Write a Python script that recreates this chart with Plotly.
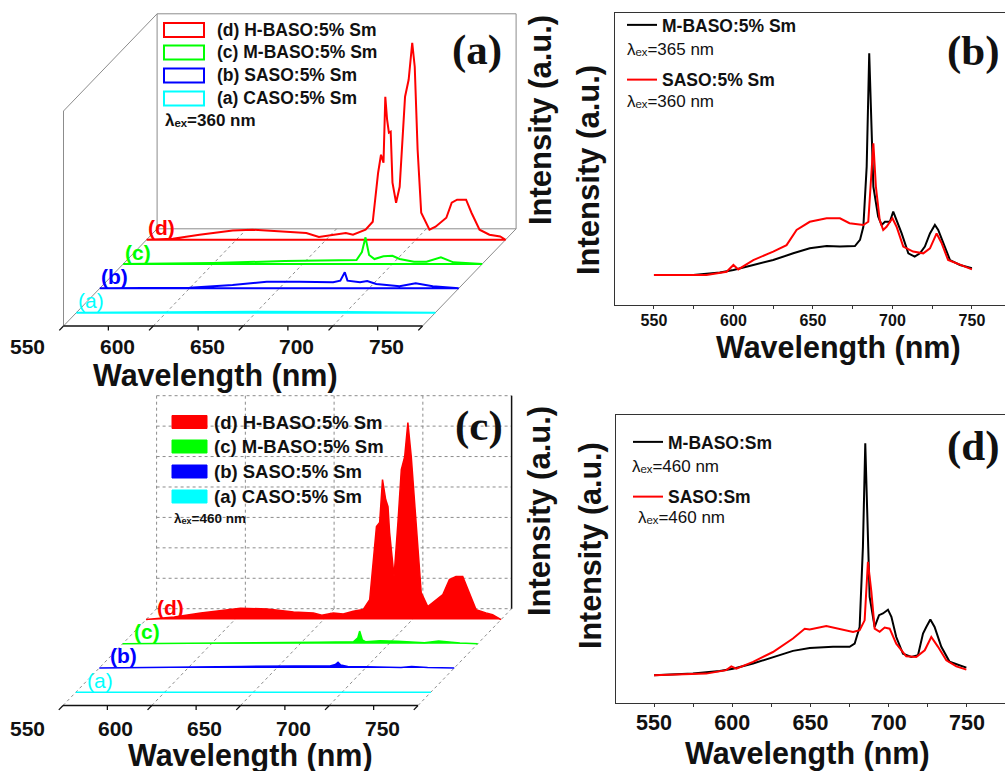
import plotly.graph_objects as go

FIG_W, FIG_H = 1005, 771
SANS = "Liberation Sans"
SERIF = "Liberation Serif"

# ----------------------------- data -----------------------------
# Panel (a): emission spectra, lambda_ex = 360 nm (stacked pseudo-3D rows)
wl_a_CASO = [550, 600, 650, 700, 750]
int_a_CASO = [0, 0.5, 1.0, 0.7, 0]
wl_a_SASO = [550, 600, 624, 643, 661, 680, 684, 686.5, 688, 695, 699, 704, 717, 726, 735.5, 750]
int_a_SASO = [0, 0.7, 3.3, 6.7, 6.7, 6.0, 7.7, 16.0, 7.7, 6.0, 7.3, 4.3, 2.0, 5.0, 2.0, 0]
wl_a_MBASO = [550, 600, 640, 660, 680, 683, 685, 687, 690, 695, 700, 704, 712, 719, 727, 734, 750]
int_a_MBASO = [0, 1.0, 3.0, 3.3, 4.0, 12.0, 26.7, 9.0, 5.0, 7.7, 8.3, 5.0, 2.3, 2.3, 6.7, 1.7, 0]
wl_a_HBASO = [550, 564.6, 579.5, 598, 609, 626, 639, 646, 654, 661, 665, 672, 676, 679, 680.6,
              682, 683, 684, 685, 686, 687, 689, 691, 694, 696, 698, 699.4, 701, 703, 707.6,
              711, 717, 720, 723, 728, 731, 735.5, 741, 747, 750]
int_a_HBASO = [0, 1.0, 5.0, 9.3, 10.0, 8.3, 6.7, 2.7, 5.0, 6.7, 5.0, 10.0, 18.0, 67.0, 85.0,
               77.0, 143.0, 120.0, 107.0, 108.0, 57.0, 37.0, 53.0, 143.0, 160.0, 197.0, 173.0, 90.0, 27.0, 10.0,
               13.0, 22.0, 37.0, 40.0, 40.0, 27.0, 10.0, 5.0, 3.3, 0]

# Panel (c): emission spectra, lambda_ex = 460 nm (stacked pseudo-3D filled rows)
wl_c_CASO = [550, 650, 750]
int_c_CASO = [0, 0.3, 0]
wl_c_SASO = [550, 600, 630, 660, 680, 683, 684.5, 686, 690, 700, 720, 726, 735, 750]
int_c_SASO = [0, 0.5, 1.5, 2.0, 2.0, 3.5, 5.7, 3.0, 1.5, 1.2, 0.5, 1.5, 0.5, 0]
wl_c_MBASO = [550, 620, 660, 680, 682.5, 683.5, 685, 687, 695, 705, 720, 728, 740, 750]
int_c_MBASO = [0, 0.5, 1.5, 2.0, 6.0, 12.7, 4.0, 2.0, 3.0, 2.5, 1.0, 2.7, 0.8, 0]
wl_c_HBASO = [550, 565.9, 580.8, 603.2, 618.2, 633.1, 644.3, 649, 655.5, 661.1, 666.7, 672.3, 676,
              679.8, 681.6, 683.2, 685, 686.3, 687.2, 689.7, 691.9, 693.8, 695.7, 697.5, 699.4,
              702.2, 705, 708.7, 713.4, 717.2, 720.9, 724.6, 728.4, 731.2, 735.9, 741.5, 745.2, 750]
int_c_HBASO = [0, 2.7, 6.7, 11.3, 10.7, 7.7, 6.7, 4.3, 6.7, 5.7, 8.3, 10.0, 20.0,
               93.0, 97.0, 140.0, 120.0, 113.0, 87.0, 43.0, 97.0, 150.0, 163.0, 197.0, 163.0,
               90.0, 27.0, 13.0, 20.0, 25.0, 40.0, 43.0, 43.0, 30.0, 10.0, 6.7, 5.0, 0]

# Panel (b): M-BASO (lambda_ex 365 nm) vs SASO (lambda_ex 360 nm)
wl_b_MBASO = [550, 574.7, 591.5, 600, 612.5, 625, 637.6, 648, 658.6, 667, 676.4, 679.6, 681.7,
              683.8, 685.4, 686.9, 688, 691, 693.2, 695.3, 698.4, 700.5, 702.6, 705.8, 710, 714,
              717.3, 720.4, 723.6, 726.7, 728.8, 732, 736.2, 742.5, 750]
int_b_MBASO = [10.3, 10.3, 11.1, 12.0, 13.7, 15.4, 17.7, 19.4, 20.2, 20.0, 20.2, 22.3, 26.8,
               47.4, 86.2, 56.5, 40.5, 30.3, 27.4, 28.5, 28.5, 32.0, 29.1, 24.5, 17.7, 16.6,
               17.7, 20.0, 24.5, 27.4, 25.7, 21.1, 15.4, 13.7, 12.6]
wl_b_SASO = [550, 583, 595.7, 600, 603, 612.5, 625, 633.4, 639.7, 648, 658.6, 667, 673, 681.7,
             684.8, 686.3, 688, 689.6, 692, 694.2, 696.3, 700, 702.6, 706.8, 713, 719.4, 723.6,
             727.8, 731, 735, 742.5, 750]
int_b_SASO = [10.3, 10.3, 11.4, 13.7, 12.2, 15.4, 18.3, 20.5, 25.7, 28.5, 29.7, 29.7, 28.0, 27.4,
              28.5, 40.5, 55.4, 40.5, 29.1, 25.7, 26.8, 29.7, 26.8, 20.0, 18.3, 17.7, 19.4,
              24.5, 21.1, 15.4, 13.7, 12.2]

# Panel (d): M-BASO:Sm vs SASO:Sm (lambda_ex 460 nm)
wl_d_MBASO = [550, 574.9, 592, 600.5, 613.3, 626, 638.8, 649.5, 664.4, 675, 678.2, 681.4, 683.5,
              685, 686.3, 687.8, 691, 693.8, 696.3, 699.5, 701.7, 704.8, 709.1, 714.4, 718.7,
              721.9, 724, 726.6, 729.3, 733.6, 738.9, 745.3, 749.6]
int_d_MBASO = [9.6, 10.2, 11.1, 11.9, 13.7, 15.8, 18.1, 19.1, 19.5, 19.5, 20.6, 26.4, 54.2,
               90.2, 63.5, 36.8, 26.4, 30.5, 31.1, 32.4, 29.9, 22.9, 17.1, 16.0, 16.6,
               24.1, 26.4, 29.0, 26.4, 19.5, 14.3, 13.1, 12.3]
wl_d_SASO = [550, 583.4, 596.2, 599.4, 602.6, 613.3, 626, 638.8, 646.3, 649.5, 660.1, 668.6,
             677.2, 681.4, 684.6, 686.7, 688.9, 691, 694.2, 697.4, 700.6, 704.8, 711.2, 717.6,
             723, 727.2, 731.5, 736.8, 743.2, 749.6]
int_d_SASO = [9.6, 10.2, 11.4, 12.7, 11.9, 14.3, 17.7, 22.4, 25.8, 25.5, 26.7, 25.8,
              24.7, 25.3, 28.7, 49.0, 38.6, 25.8, 24.7, 26.2, 25.8, 20.6, 16.2, 16.0,
              18.3, 22.9, 19.5, 14.8, 12.7, 11.6]

row_names = ["(a) CASO:5% Sm", "(b) SASO:5% Sm", "(c) M-BASO:5% Sm", "(d) H-BASO:5% Sm"]
row_tags = ["(a)", "(b)", "(c)", "(d)"]
row_colors = ["#00FFFF", "#0000FF", "#00FF00", "#FF0000"]
rows_a = [(wl_a_CASO, int_a_CASO), (wl_a_SASO, int_a_SASO), (wl_a_MBASO, int_a_MBASO), (wl_a_HBASO, int_a_HBASO)]
rows_c = [(wl_c_CASO, int_c_CASO), (wl_c_SASO, int_c_SASO), (wl_c_MBASO, int_c_MBASO), (wl_c_HBASO, int_c_HBASO)]

wl_major = [550, 600, 650, 700, 750]
wl_minor = [575, 625, 675, 725]
tick_labels = ["550", "600", "650", "700", "750"]

# ----------------------------- helpers -----------------------------
def px(x):
    return x / FIG_W


def py(y):
    return 1 - y / FIG_H


# pseudo-3D (oblique) projection for panels (a) and (c); axes are in pixel-like units
GEO = {
    "a": dict(ox=63.5, oy=54.0, sx=1.795, dx=23.4, dy=24.3, H=215.0, depth=4.0,
              rows=[0.55, 1.55, 2.55, 3.55], xa="x", ya="y"),
    "c": dict(ox=63.0, oy=65.5, sx=1.775, dx=23.4, dy=24.2, H=213.0, depth=4.0,
              rows=[0.55, 1.55, 2.55, 3.55], xa="x3", ya="y3"),
}


def proj(g, wl, depth, inten):
    return (g["ox"] + g["sx"] * (wl - 550) + g["dx"] * depth,
            g["oy"] + g["dy"] * depth + inten)


def segs(g, seglist):
    xs, ys = [], []
    for (p0, p1) in seglist:
        x0, y0 = proj(g, *p0)
        x1, y1 = proj(g, *p1)
        xs += [x0, x1, None]
        ys += [y0, y1, None]
    return xs, ys


fig = go.Figure()


def add_lines(g, seglist, color, width, dash="solid"):
    xs, ys = segs(g, seglist)
    fig.add_trace(go.Scatter(x=xs, y=ys, mode="lines", xaxis=g["xa"], yaxis=g["ya"],
                             line=dict(color=color, width=width, dash=dash),
                             showlegend=False, hoverinfo="skip"))


wmin, wmax = wl_major[0], wl_major[-1]

# ----------------------------- panel (a) -----------------------------
ga = GEO["a"]
D, Hh = ga["depth"], ga["H"]
frame_a = [
    ((wmin, 0, 0), (wmin, 0, Hh)),          # left wall front vertical
    ((wmin, 0, Hh), (wmin, D, Hh)),         # left wall top
    ((wmin, D, 0), (wmin, D, Hh)),          # back wall left
    ((wmin, D, Hh), (wmax, D, Hh)),         # back wall top
    ((wmax, D, 0), (wmax, D, Hh)),          # back wall right
    ((wmin, D, 0), (wmax, D, 0)),           # back floor line
    ((wmin, 0, 0), (wmin, D, 0)),           # floor left edge
    ((wmax, 0, 0), (wmax, D, 0)),           # floor right edge
]
add_lines(ga, frame_a, "#8c8c8c", 1)
add_lines(ga, [((w, 0, 0), (w, D, 0)) for w in wl_major[1:-1]], "#8c8c8c", 1, "dot")

for k in reversed(range(4)):
    wl, it = rows_a[k]
    d = ga["rows"][k]
    xs, ys = [], []
    for w, v in zip(wl + [wl[-1], wl[0]], it + [0, 0]):
        X, Y = proj(ga, w, d, v)
        xs.append(X)
        ys.append(Y)
    fig.add_trace(go.Scatter(x=xs, y=ys, mode="lines", xaxis="x", yaxis="y",
                             line=dict(color=row_colors[k], width=2), name=row_names[k],
                             showlegend=False, hoverinfo="skip"))

# front edge + ticks
add_lines(ga, [((wmin, 0, 0), (wmax, 0, 0))], "#111111", 1.5)
add_lines(ga, [((w, 0, 0), (w, -0.18, 0)) for w in wl_major] +
          [((w, 0, 0), (w, 0, -4.5)) for w in wl_minor], "#111111", 1.3)

# ----------------------------- panel (c) -----------------------------
gc = GEO["c"]
D, Hh = gc["depth"], gc["H"]
grid_c = [((w, D, 0), (w, D, Hh)) for w in wl_major[:-1]]
grid_c += [((wmin, D, Hh * k / 7), (wmax, D, Hh * k / 7)) for k in range(0, 8)]
grid_c += [((w, 0, 0), (w, D, 0)) for w in wl_major]
add_lines(gc, grid_c, "#8c8c8c", 1, "dot")
add_lines(gc, [((wmax, D, 0), (wmax, D, Hh))], "#111111", 1.5)   # intensity axis

for k in reversed(range(4)):
    wl, it = rows_c[k]
    d = gc["rows"][k]
    xs, ys = [], []
    for w, v in zip(wl, it):
        X, Y = proj(gc, w, d, v)
        xs.append(X)
        ys.append(Y)
    fig.add_trace(go.Scatter(x=xs, y=ys, mode="lines", xaxis="x3", yaxis="y3", fill="toself",
                             fillcolor=row_colors[k], line=dict(color=row_colors[k], width=1.5),
                             name=row_names[k], showlegend=False, hoverinfo="skip"))

add_lines(gc, [((wmin, 0, 0), (wmax, 0, 0))], "#111111", 1.5)
add_lines(gc, [((w, 0, 0), (w, -0.18, 0)) for w in wl_major] +
          [((w, 0, 0), (w, 0, -4.5)) for w in wl_minor], "#111111", 1.3)

# ----------------------------- panels (b) and (d) -----------------------------
fig.add_trace(go.Scatter(x=wl_b_MBASO, y=int_b_MBASO, mode="lines", xaxis="x2", yaxis="y2",
                         line=dict(color="#000000", width=2), name="M-BASO:5% Sm",
                         legend="legend2", legendgroup="b1", hoverinfo="skip"))
fig.add_trace(go.Scatter(x=wl_b_SASO, y=int_b_SASO, mode="lines", xaxis="x2", yaxis="y2",
                         line=dict(color="#FF0000", width=2), name="SASO:5% Sm",
                         legend="legend2", legendgroup="b2", hoverinfo="skip"))
fig.add_trace(go.Scatter(x=wl_d_MBASO, y=int_d_MBASO, mode="lines", xaxis="x4", yaxis="y4",
                         line=dict(color="#000000", width=2), name="M-BASO:Sm",
                         legend="legend4", legendgroup="d1", hoverinfo="skip"))
fig.add_trace(go.Scatter(x=wl_d_SASO, y=int_d_SASO, mode="lines", xaxis="x4", yaxis="y4",
                         line=dict(color="#FF0000", width=2), name="SASO:Sm",
                         legend="legend4", legendgroup="d2", hoverinfo="skip"))

hidden = dict(visible=False, fixedrange=True)
box_line = "#333333"


def xaxis2d(dom, rng, fs, standoff=0):
    return dict(domain=dom, range=rng, showline=True, linecolor=box_line, linewidth=1, mirror=True,
                ticks="outside", ticklen=3, tickwidth=1, tickcolor=box_line, tick0=550, dtick=50,
                ticklabelstandoff=standoff,
                tickfont=dict(family=SANS, size=fs, color="#111111", weight="bold"),
                minor=dict(tick0=525, dtick=25, ticks="outside", ticklen=3, tickwidth=1, tickcolor=box_line),
                showgrid=False, zeroline=False, fixedrange=True)


def yaxis2d(dom, anchor):
    return dict(domain=dom, range=[0, 100], anchor=anchor, showline=True, linecolor=box_line,
                linewidth=1, mirror=False, showticklabels=False, ticks="", showgrid=False,
                zeroline=False, fixedrange=True)


fig.update_layout(
    width=FIG_W, height=FIG_H, margin=dict(l=0, r=0, t=0, b=0),
    paper_bgcolor="white", plot_bgcolor="rgba(0,0,0,0)", hovermode=False,
    xaxis=dict(domain=[0, px(520)], range=[0, 520], anchor="y", **hidden),
    yaxis=dict(domain=[py(380), 1], range=[0, 380], anchor="x", **hidden),
    xaxis3=dict(domain=[0, px(520)], range=[0, 520], anchor="y3", **hidden),
    yaxis3=dict(domain=[0, py(380)], range=[0, 391], anchor="x3", **hidden),
    xaxis2=dict(anchor="y2", **xaxis2d([px(615), 1], [525.5, 770.8], 16, -2)),
    yaxis2=yaxis2d([py(305), py(13)], "x2"),
    xaxis4=dict(anchor="y4", **xaxis2d([px(616), 1], [525.7, 774.3], 21.5, -3)),
    yaxis4=yaxis2d([py(703), py(415)], "x4"),
    legend2=dict(x=px(622), y=py(7), xanchor="left", yanchor="top", bgcolor="rgba(0,0,0,0)",
                 font=dict(family=SANS, size=17.5, color="#111111", weight="bold"),
                 tracegroupgap=29, itemwidth=30),
    legend4=dict(x=px(628), y=py(424), xanchor="left", yanchor="top", bgcolor="rgba(0,0,0,0)",
                 font=dict(family=SANS, size=17.5, color="#111111", weight="bold"),
                 tracegroupgap=29, itemwidth=30),
)

ann = []
shapes = []


def text(x, y, s, size, bold=True, color="#111111", family=SANS, angle=0, xanchor="center", ref=("paper", "paper"), xshift=0, yshift=0):
    ann.append(dict(x=x, y=y, xref=ref[0], yref=ref[1], text=s, showarrow=False, textangle=angle,
                    xanchor=xanchor, yanchor="middle", xshift=xshift, yshift=yshift,
                    font=dict(family=family, size=size, color=color, weight="bold" if bold else "normal")))


# pseudo-3D tick labels, row tags
for g, lab_shift, tag_dx in ((ga, (-36, -20), 15), (gc, (-36, -23), 24)):
    for w, t in zip(wl_major, tick_labels):
        X, Y = proj(g, w, 0, 0)
        text(X, Y, t, 21, ref=(g["xa"], g["ya"]), xshift=lab_shift[0], yshift=lab_shift[1])
    for k in range(4):
        X, Y = proj(g, wmin, g["rows"][k], 0)
        text(X, Y, row_tags[k], 21, bold=(k > 0), color=row_colors[k], ref=(g["xa"], g["ya"]),
             xshift=tag_dx, yshift=12)

# legends of the pseudo-3D panels
for k in range(4):
    j = 3 - k
    ya_ = [30, 52.5, 75.5, 98.5][j]
    shapes.append(dict(type="rect", xref="paper", yref="paper", x0=px(164), x1=px(204),
                       y0=py(ya_ + 7), y1=py(ya_ - 7), line=dict(color=row_colors[k], width=2),
                       fillcolor="rgba(0,0,0,0)"))
    text(px(215), py(ya_), row_names[k], 17.5, xanchor="left")
    yc_ = [422, 446.5, 471.5, 496.5][j]
    shapes.append(dict(type="rect", xref="paper", yref="paper", x0=px(172), x1=px(207),
                       y0=py(yc_ + 6.5), y1=py(yc_ - 6.5), line=dict(color=row_colors[k], width=1),
                       fillcolor=row_colors[k]))
    text(px(212), py(yc_), row_names[k], 18.5, xanchor="left")

LAM = "λₑₓ"
text(px(163), py(120), LAM + "=360 nm", 17, xanchor="left")
text(px(172), py(518), LAM + "=460 nm", 13.5, xanchor="left")

text(px(625), py(50), LAM + "=365 nm", 17, bold=False, xanchor="left")
text(px(625), py(102), LAM + "=360 nm", 17, bold=False, xanchor="left")
text(px(630), py(467), LAM + "=460 nm", 17, bold=False, xanchor="left")
text(px(636), py(517), LAM + "=460 nm", 17, bold=False, xanchor="left")

# axis titles
text(px(215), py(375), "Wavelength (nm)", 30.5)
text(px(250), py(755), "Wavelength (nm)", 30.5)
text(px(838), py(348), "Wavelength (nm)", 30.5)
text(px(807), py(753), "Wavelength (nm)", 30.5)
text(px(540), py(120), "Intensity (a.u.)", 31, angle=-90)
text(px(539), py(511), "Intensity (a.u.)", 31, angle=-90)
text(px(588), py(170), "Intensity (a.u.)", 31, angle=-90)
text(px(590), py(546), "Intensity (a.u.)", 30.5, angle=-90)

# panel letters
for s, x, y in (("(a)", 477, 50), ("(b)", 973, 51), ("(c)", 479, 426), ("(d)", 973, 446)):
    text(px(x), py(y), s, 43, family=SERIF)

fig.update_layout(annotations=ann, shapes=shapes)
fig.write_html("out.html", config={"displayModeBar": False},
               post_script="document.body.style.margin='0';")
